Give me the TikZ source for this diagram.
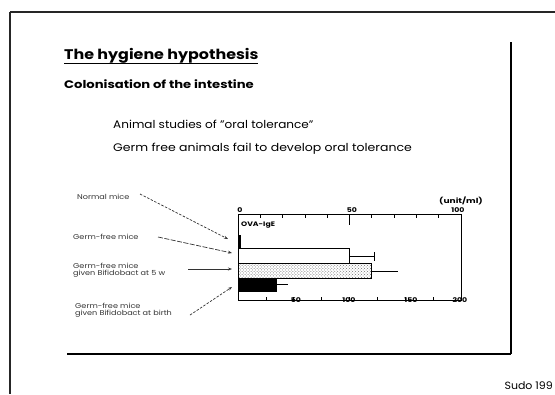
\documentclass[tikz,border=0pt]{standalone}
\usepackage{fontspec}
\setmainfont{Poppins}
\usetikzlibrary{arrows.meta,patterns}
\newcommand{\stretchfont}[3]{\fontsize{#1}{#1}\selectfont#3\addfontfeatures{FakeStretch=#2}}
\begin{document}
\begin{tikzpicture}[x=1bp,y=-1bp,
  frame/.style={line width=1.8bp,black!85},
  lab/.style={font=\stretchfont{7}{1.16}{},anchor=west,inner sep=0,align=left,text=black!80},
  pointer/.style={-{Stealth[length=4bp,width=3bp]},line width=0.7bp,black!80},
  axis/.style={line width=0.9bp},
  tick/.style={line width=0.8bp},
  num/.style={font=\stretchfont{6.5}{1.2}{\bfseries},inner sep=0}]
\useasboundingbox (0,0) rectangle (555,394);
\fill[white] (0,0) rectangle (555,394);
% outer frame
\draw[frame] (10,12) -- (555,12);
\draw[frame] (10,12) -- (10,394);
% inner frame
\draw[line width=1.2bp] (511,42) -- (511,354);
\draw[line width=2bp] (67,354) -- (511,354);
% texts
\node[anchor=base west,inner sep=0,font=\stretchfont{14}{1.14}{\bfseries}] (title) at (64,59) {The hygiene hypothesis};
\draw[line width=1.1bp] (64,63.5) -- (258,63.5);
\node[anchor=base west,inner sep=0,font=\stretchfont{11}{1.2}{\bfseries}] (sub) at (64,88) {Colonisation of the intestine};
\node[anchor=base west,inner sep=0,font=\stretchfont{11}{1.1}{}] (l1) at (113,128) {Animal studies of "oral tolerance"};
\node[anchor=base west,inner sep=0,font=\stretchfont{11}{1.14}{}] (l2) at (113,151) {Germ free animals fail to develop oral tolerance};
\node[anchor=base east,inner sep=0,font=\stretchfont{10.5}{1.05}{}] (ref) at (553,389) {Sudo 199};
% chart box
\draw[axis] (238,214) rectangle (461,300);
\foreach \i in {1,...,9}{\draw[tick] ({238+22.3*\i},214) -- ++(0,4);}
\draw[tick] (349.5,214) -- (349.5,225);
\foreach \i in {1,...,7}{\draw[tick] ({238+27.9*\i},300) -- ++(0,-3);}
\node[num,anchor=south] (t0) at (240,213) {0};
\node[num,anchor=south] (t50) at (352,213) {50};
\node[num,anchor=south] (t100) at (458,213) {100};
\node[num,anchor=south,font=\stretchfont{7}{1.3}{\bfseries}] (unit) at (461,205) {(unit/ml)};
\node[num] (b50) at (296,300) {50};
\node[num] (b100) at (349,300) {100};
\node[num] (b150) at (411,300) {150};
\node[num] (b200) at (460,300) {200};
\node[num,anchor=west] (ova) at (241,225) {OVA-IgE};
% bars
\fill (238,235) rectangle (241,248);
\draw[line width=0.8bp] (238,248) rectangle (349,263);
\draw[line width=0.8bp] (349,256) -- (374,256);
\draw[line width=0.8bp] (374,252) -- (374,261);
\draw[line width=0.8bp,pattern=crosshatch dots,pattern color=black!55] (238,263) rectangle (371,278);
\draw[line width=0.8bp] (371,271) -- (398,271);
\fill (238,278) rectangle (277,292);
\draw[line width=0.8bp] (277,284) -- (288,284);
% labels
\node[lab] (nm) at (77,197) {Normal mice};
\node[lab] (gf) at (73,237) {Germ-free mice};
\node[lab] (gf5) at (73,270) {Germ-free mice\\given Bifidobact at 5 w};
\node[lab] (gfb) at (75,310) {Germ-free mice\\given Bifidobact at birth};
\coordinate (s1) at (140,194); \coordinate (e1) at (228,239);
\coordinate (s2) at (158,237); \coordinate (e2) at (232,253);
\coordinate (s3) at (188,269); \coordinate (e3) at (232,269);
\coordinate (s4) at (190,315); \coordinate (e4) at (232,287);
\draw[pointer,dash pattern=on 2.5bp off 1.5bp] (s1) -- (e1);
\draw[pointer,dash pattern=on 5bp off 1.5bp] (s2) -- (e2);
\draw[pointer] (s3) -- (e3);
\draw[pointer,dash pattern=on 2.5bp off 1.5bp] (s4) -- (e4);
\end{tikzpicture}
\end{document}
